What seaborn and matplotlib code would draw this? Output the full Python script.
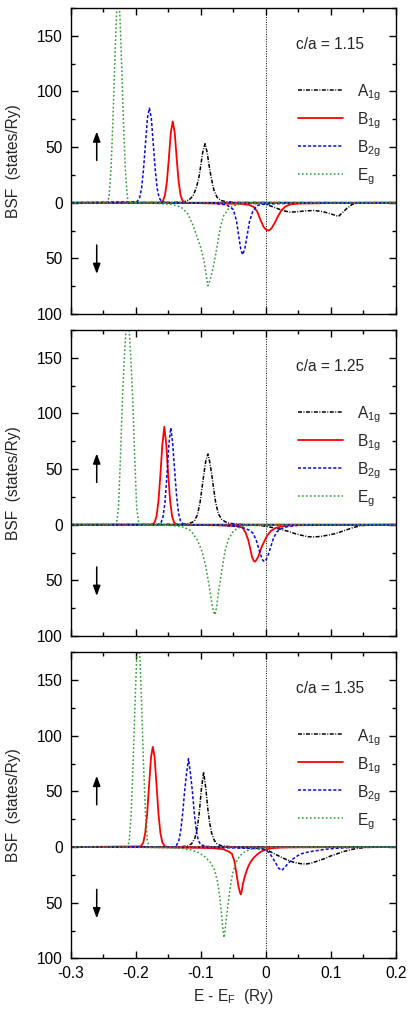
import matplotlib
matplotlib.use("Agg")
import matplotlib.pyplot as plt
from matplotlib.ticker import MultipleLocator, FuncFormatter
import seaborn as sns

# Bloch spectral function per symmetry channel.
# (energy in Ry, BSF in states/Ry); spin-down parts are stored negative.
RATIOS = ["1.15", "1.25", "1.35"]
SPECIES = ["A1g", "B1g", "B2g", "Eg"]
LABELS = [r"A$_{\mathrm{1g}}$", r"B$_{\mathrm{1g}}$", r"B$_{\mathrm{2g}}$", r"E$_{\mathrm{g}}$"]

# ---- c/a = 1.15 ----
A1G_UP_115 = [(-0.30, 0), (-0.14, 0.3), (-0.125, 1), (-0.118, 2.5), (-0.112, 6), (-0.107, 13),
              (-0.103, 22), (-0.100, 33), (-0.097, 45), (-0.0934, 53), (-0.090, 45), (-0.087, 33),
              (-0.084, 23), (-0.080, 12), (-0.075, 5), (-0.069, 2), (-0.060, 0.8), (-0.045, 0.2), (0.20, 0)]
A1G_DN_115 = [(-0.30, 0), (-0.05, -0.3), (-0.01, -0.8), (0.0, -1.5), (0.008, -3), (0.017, -5),
              (0.027, -7.2), (0.038, -8.5), (0.050, -8.0), (0.062, -7.3), (0.075, -7.0), (0.088, -8.0),
              (0.100, -10), (0.112, -12.3), (0.118, -9), (0.125, -5), (0.133, -1.5), (0.143, 0), (0.20, 0)]
B1G_UP_115 = [(-0.30, 0), (-0.162, 0), (-0.158, 1.8), (-0.155, 6.8), (-0.152, 19), (-0.149, 40),
              (-0.146, 63), (-0.143, 73), (-0.140, 63), (-0.137, 40), (-0.134, 19), (-0.131, 6.8),
              (-0.128, 1.8), (-0.124, 0), (0.20, 0)]
B1G_DN_115 = [(-0.30, 0), (-0.14, 0), (-0.08, -0.6), (-0.04, -1), (-0.025, -2), (-0.018, -4),
              (-0.013, -8), (-0.008, -15.5), (-0.003, -22), (0.001, -24.5), (0.005, -25), (0.009, -23),
              (0.014, -18), (0.019, -12), (0.024, -7), (0.030, -3.5), (0.038, -1.5), (0.050, -0.8),
              (0.10, -0.3), (0.20, 0)]
B2G_UP_115 = [(-0.30, 0), (-0.198, 0.8), (-0.194, 4.5), (-0.191, 13), (-0.188, 30), (-0.185, 53),
              (-0.182, 76), (-0.179, 85), (-0.176, 76), (-0.173, 53), (-0.170, 30), (-0.167, 13),
              (-0.164, 4.5), (-0.160, 0.8), (-0.15, 0), (0.20, 0)]
B2G_DN_115 = [(-0.30, 0), (-0.08, -0.5), (-0.06, -2), (-0.050, -6), (-0.045, -16), (-0.041, -32),
              (-0.038, -43), (-0.0354, -46.7), (-0.032, -41), (-0.029, -31), (-0.025, -17), (-0.020, -8),
              (-0.014, -3), (-0.008, -1.5), (0.010, -1), (0.050, -0.3), (0.20, 0)]
EG_UP_115 = [(-0.30, 0), (-0.244, 0), (-0.241, 5), (-0.238, 30), (-0.235, 75), (-0.232, 130),
             (-0.2295, 170), (-0.227, 185), (-0.2245, 170), (-0.222, 130), (-0.219, 75), (-0.216, 30),
             (-0.213, 5), (-0.210, 0), (0.20, 0)]
EG_DN_115 = [(-0.30, 0), (-0.17, -0.5), (-0.145, -1.5), (-0.130, -4), (-0.120, -10), (-0.112, -20),
             (-0.106, -30), (-0.100, -40), (-0.095, -52), (-0.091, -67), (-0.089, -74.5), (-0.087, -72),
             (-0.084, -66), (-0.080, -56), (-0.075, -40), (-0.070, -23), (-0.065, -12), (-0.058, -6),
             (-0.050, -3), (-0.040, -1.2), (-0.025, -0.3), (0.20, 0)]

# ---- c/a = 1.25 ----
A1G_UP_125 = [(-0.30, 0), (-0.13, 0.3), (-0.118, 1), (-0.110, 3), (-0.105, 9), (-0.101, 20),
              (-0.098, 33), (-0.095, 46), (-0.092, 58), (-0.0888, 63.5), (-0.086, 56), (-0.083, 45),
              (-0.080, 32), (-0.077, 20), (-0.073, 10), (-0.068, 5), (-0.062, 2.5), (-0.055, 1.2),
              (-0.045, 0.5), (-0.030, 0), (0.20, 0)]
A1G_DN_125 = [(-0.30, 0), (-0.040, -0.2), (-0.015, -0.6), (-0.005, -1), (0.005, -2), (0.015, -3),
              (0.025, -4.5), (0.035, -6), (0.045, -8), (0.055, -9.5), (0.065, -10.8), (0.075, -11),
              (0.085, -10.5), (0.095, -9.5), (0.105, -8.3), (0.115, -6.5), (0.125, -4.5), (0.135, -2.5),
              (0.145, -1), (0.160, -0.2), (0.20, 0)]
B1G_UP_125 = [(-0.30, 0), (-0.175, 0), (-0.171, 2), (-0.168, 7.5), (-0.165, 21), (-0.162, 45),
              (-0.159, 72), (-0.156, 88), (-0.153, 72), (-0.150, 45), (-0.147, 21), (-0.144, 7.5),
              (-0.141, 2), (-0.137, 0), (0.20, 0)]
B1G_DN_125 = [(-0.30, 0), (-0.13, 0), (-0.07, -0.6), (-0.045, -1.2), (-0.036, -2.5), (-0.031, -7),
              (-0.027, -13.5), (-0.024, -21), (-0.021, -29), (-0.0185, -32.5), (-0.0164, -33.2),
              (-0.014, -31.5), (-0.011, -28), (-0.007, -21), (-0.003, -16), (0.002, -10), (0.008, -5.5),
              (0.016, -2.8), (0.025, -1.5), (0.040, -0.5), (0.20, 0)]
B2G_UP_125 = [(-0.30, 0), (-0.166, 0), (-0.161, 2), (-0.158, 7), (-0.155, 20), (-0.152, 44),
              (-0.149, 72), (-0.146, 87), (-0.143, 72), (-0.140, 48), (-0.137, 25), (-0.134, 10),
              (-0.131, 3), (-0.127, 0.5), (-0.120, 0), (0.20, 0)]
B2G_DN_125 = [(-0.30, 0), (-0.12, 0), (-0.07, -0.5), (-0.045, -1.5), (-0.033, -3), (-0.025, -5),
              (-0.019, -8), (-0.014, -15), (-0.009, -25), (-0.005, -31.5), (-0.0022, -33.2), (0.001, -31),
              (0.0045, -26), (0.008, -19.5), (0.012, -12), (0.017, -6.5), (0.024, -3.5), (0.033, -1.8),
              (0.050, -0.5), (0.20, 0)]
EG_UP_125 = [(-0.30, 0), (-0.2325, 0), (-0.2295, 2), (-0.2265, 15), (-0.2235, 60), (-0.2205, 112),
             (-0.2175, 150), (-0.215, 175), (-0.2125, 185), (-0.210, 175), (-0.2075, 150), (-0.2045, 112),
             (-0.2015, 60), (-0.1985, 15), (-0.1955, 2), (-0.1925, 0), (0.20, 0)]
EG_DN_125 = [(-0.30, 0), (-0.15, -0.5), (-0.135, -1.3), (-0.125, -2.5), (-0.115, -5.5), (-0.105, -14),
             (-0.098, -24), (-0.092, -38), (-0.087, -55), (-0.083, -70), (-0.0805, -78), (-0.078, -81),
             (-0.0755, -74), (-0.073, -62), (-0.070, -50), (-0.066, -36), (-0.062, -22), (-0.057, -13),
             (-0.050, -6), (-0.042, -2.8), (-0.030, -1), (-0.015, -0.3), (0.20, 0)]

# ---- c/a = 1.35 ----
A1G_UP_135 = [(-0.30, 0), (-0.13, 0.3), (-0.120, 1), (-0.114, 3), (-0.109, 8), (-0.105, 18),
              (-0.102, 32), (-0.099, 52), (-0.0955, 67.4), (-0.092, 52), (-0.089, 34), (-0.086, 21),
              (-0.083, 12), (-0.079, 6), (-0.075, 3), (-0.070, 1.5), (-0.063, 0.8), (-0.055, 0.4),
              (-0.040, 0), (0.20, 0)]
A1G_DN_135 = [(-0.30, 0), (-0.05, -0.3), (-0.02, -0.8), (-0.005, -1.5), (0.005, -3.5), (0.015, -6.5),
              (0.025, -9.5), (0.035, -12), (0.045, -14), (0.055, -15), (0.062, -15.2), (0.070, -14.5),
              (0.080, -12.5), (0.090, -10.5), (0.100, -8), (0.110, -6), (0.120, -4), (0.130, -2.5),
              (0.140, -1.2), (0.155, -0.3), (0.20, 0)]
B1G_UP_135 = [(-0.30, 0), (-0.1924, 0.6), (-0.1884, 4), (-0.1854, 12.6), (-0.1824, 30), (-0.1794, 56),
              (-0.1764, 81), (-0.1737, 90), (-0.171, 81), (-0.168, 56), (-0.165, 30), (-0.162, 12.6),
              (-0.159, 4), (-0.155, 0.6), (-0.150, 0), (0.20, 0)]
B1G_DN_135 = [(-0.30, 0), (-0.19, 0), (-0.15, -0.3), (-0.10, -0.7), (-0.08, -1), (-0.065, -2),
              (-0.057, -4), (-0.052, -6), (-0.048, -13), (-0.045, -24), (-0.042, -35), (-0.0395, -41),
              (-0.0383, -42.5), (-0.037, -40), (-0.035, -33), (-0.032, -26), (-0.028, -19), (-0.024, -14),
              (-0.019, -10), (-0.013, -6.5), (-0.007, -4), (0.000, -2.2), (0.010, -1), (0.025, -0.4),
              (0.050, -0.2), (0.20, 0)]
B2G_UP_135 = [(-0.30, 0), (-0.142, 0), (-0.1378, 1), (-0.1338, 5.5), (-0.1308, 14.5), (-0.1278, 30),
              (-0.1248, 50), (-0.1218, 66), (-0.1188, 79.4), (-0.1158, 66), (-0.1128, 50), (-0.1098, 30),
              (-0.1068, 15), (-0.1038, 6), (-0.0998, 2), (-0.090, 0.5), (-0.070, 0), (0.20, 0)]
B2G_DN_135 = [(-0.30, 0), (-0.09, -0.3), (-0.06, -0.6), (-0.03, -1), (-0.01, -1.5), (0.000, -2.5),
              (0.005, -5), (0.010, -9), (0.015, -14), (0.020, -19), (0.0246, -21), (0.029, -18.5),
              (0.034, -15), (0.040, -11.5), (0.047, -8.5), (0.055, -6), (0.065, -4.5), (0.078, -3.2),
              (0.095, -1.8), (0.115, -0.8), (0.140, -0.2), (0.20, 0)]
EG_UP_135 = [(-0.30, 0), (-0.213, 0), (-0.210, 5), (-0.207, 30), (-0.204, 75), (-0.201, 130),
             (-0.1985, 170), (-0.196, 185), (-0.1935, 170), (-0.191, 130), (-0.188, 75), (-0.185, 30),
             (-0.182, 5), (-0.179, 0), (0.20, 0)]
EG_DN_135 = [(-0.30, 0), (-0.15, -0.5), (-0.13, -1.2), (-0.115, -2.5), (-0.103, -5), (-0.093, -9),
             (-0.085, -14), (-0.079, -20), (-0.0745, -30), (-0.071, -43), (-0.068, -60), (-0.066, -73),
             (-0.0642, -81.4), (-0.0625, -75), (-0.0605, -64), (-0.058, -52), (-0.055, -38), (-0.051, -24),
             (-0.046, -14), (-0.040, -8), (-0.032, -4), (-0.020, -1.5), (0.000, -0.4), (0.20, 0)]

PANELS = [
    [(A1G_UP_115, A1G_DN_115), (B1G_UP_115, B1G_DN_115), (B2G_UP_115, B2G_DN_115), (EG_UP_115, EG_DN_115)],
    [(A1G_UP_125, A1G_DN_125), (B1G_UP_125, B1G_DN_125), (B2G_UP_125, B2G_DN_125), (EG_UP_125, EG_DN_125)],
    [(A1G_UP_135, A1G_DN_135), (B1G_UP_135, B1G_DN_135), (B2G_UP_135, B2G_DN_135), (EG_UP_135, EG_DN_135)],
]

# spin arrows (annotation only)
ARROW_X = -0.26
UP_ARROW = (38, 64)
DOWN_ARROW = (-38, -64)

COLORS = ["black", "#ff0000", "#0808d8", "#2f9a2f"]
STYLES = [(0, (2.6, 1.0, 0.6, 1.0)), "-", (0, (2.0, 1.3)), (0, (1.1, 1.5))]
WIDTHS = [1.1, 1.3, 1.1, 1.1]

sns.set_theme(style="ticks")
plt.rcParams["font.family"] = ["Liberation Sans", "DejaVu Sans"]
plt.rcParams["mathtext.fontset"] = "custom"
plt.rcParams["mathtext.rm"] = "Liberation Sans"
plt.rcParams["mathtext.it"] = "Liberation Sans:italic"
plt.rcParams["axes.linewidth"] = 1.0
plt.rcParams["axes.edgecolor"] = "black"

FS = 11.2
fig = plt.figure(figsize=(4.15, 10.09), dpi=100)
bottoms = [0.6888, 0.3697, 0.0502]
axes = [fig.add_axes([0.1704, b, 0.7831, 0.3033]) for b in bottoms]

abs_fmt = FuncFormatter(lambda v, p: "%g" % abs(round(v)))
x_fmt = FuncFormatter(lambda v, p: "%g" % (round(v, 2) + 0.0))

for k, ax in enumerate(axes):
    handles = []
    for (up, dn), color, ls, lw in zip(PANELS[k], COLORS, STYLES, WIDTHS):
        for part in (up, dn):
            xs, ys = zip(*part)
            sns.lineplot(x=list(xs), y=list(ys), ax=ax, color=color, linestyle=ls, lw=lw,
                         estimator=None, sort=False, legend=False)
        handles.append(ax.lines[-2])

    ax.axvline(0, color="black", ls=(0, (1, 1.5)), lw=0.7, zorder=0)
    ax.set_xlim(-0.3, 0.2)
    ax.set_ylim(-100, 175)
    ax.xaxis.set_major_locator(MultipleLocator(0.1))
    ax.xaxis.set_minor_locator(MultipleLocator(0.05))
    ax.yaxis.set_major_locator(MultipleLocator(50))
    ax.yaxis.set_minor_locator(MultipleLocator(25))
    ax.yaxis.set_major_formatter(abs_fmt)
    ax.xaxis.set_major_formatter(x_fmt)
    ax.tick_params(which="both", direction="in", top=True, right=True, width=1.0, colors="black")
    ax.tick_params(which="major", length=5, labelsize=FS, pad=5.5)
    ax.tick_params(which="minor", length=2.8)
    if k < 2:
        ax.tick_params(labelbottom=False)
        ax.set_xlabel("")
    else:
        ax.set_xlabel(r"E - E$_\mathrm{F}$  (Ry)", fontsize=FS)
        ax.xaxis.set_label_coords(0.5, -0.094)
    ax.set_ylabel("BSF  (states/Ry)", fontsize=FS)
    ax.yaxis.set_label_coords(-0.154, 0.5)

    ax.annotate("", xy=(ARROW_X, UP_ARROW[1]), xytext=(ARROW_X, UP_ARROW[0]),
                arrowprops=dict(arrowstyle="-|>,head_length=0.6,head_width=0.22", color="black",
                                lw=1.1, shrinkA=0, shrinkB=0, mutation_scale=10))
    ax.annotate("", xy=(ARROW_X, DOWN_ARROW[1]), xytext=(ARROW_X, DOWN_ARROW[0]),
                arrowprops=dict(arrowstyle="-|>,head_length=0.6,head_width=0.22", color="black",
                                lw=1.1, shrinkA=0, shrinkB=0, mutation_scale=10))

    ax.text(0.693, 0.881, f"c/a = {RATIOS[k]}", transform=ax.transAxes, fontsize=FS,
            ha="left", va="center")
    ax.legend(handles, LABELS, loc="center left", bbox_to_anchor=(0.698, 0.585), frameon=False,
              fontsize=FS, handlelength=2.95, handletextpad=0.88, labelspacing=0.46,
              handleheight=1.4, borderpad=0, borderaxespad=0)

fig.savefig("out.png", dpi=100)
